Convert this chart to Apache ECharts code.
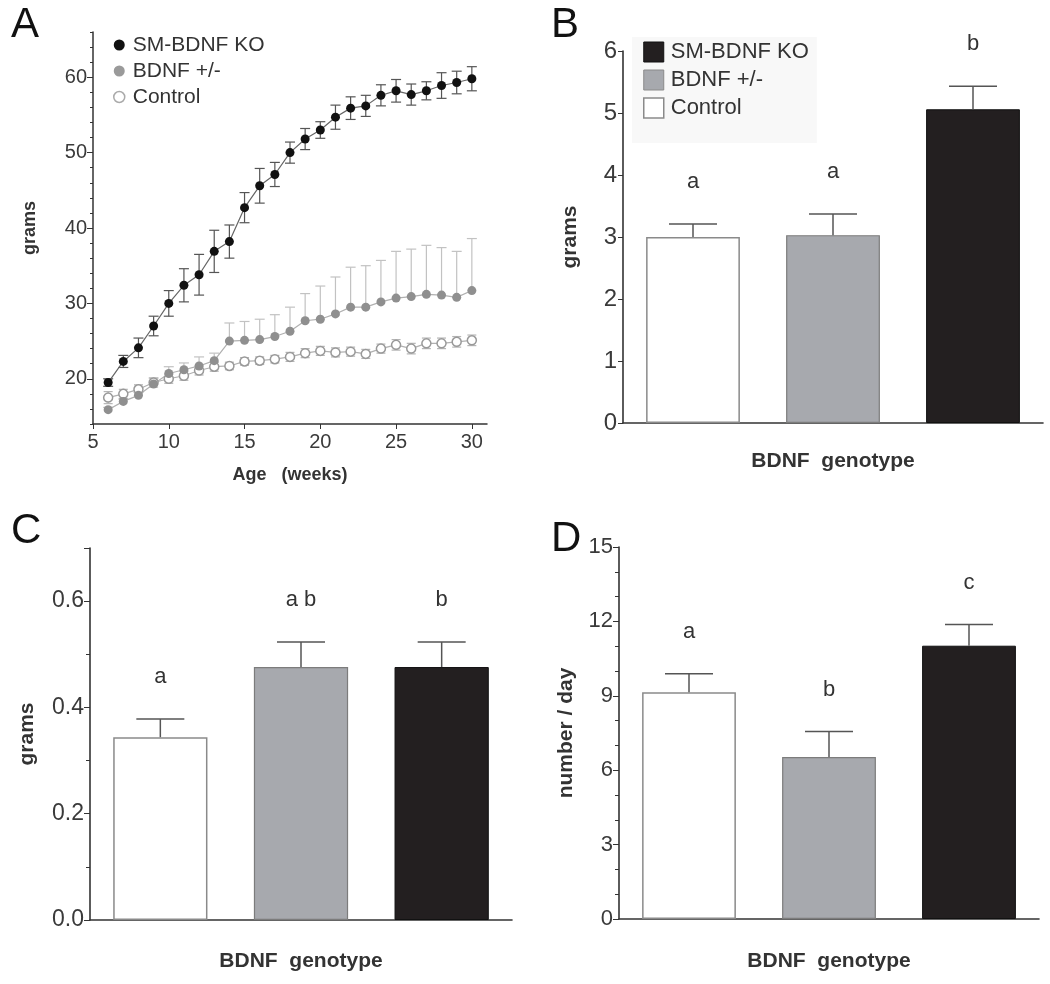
<!DOCTYPE html>
<html><head><meta charset="utf-8">
<script src="https://cdn.jsdelivr.net/npm/echarts@6/dist/echarts.min.js"></script>
<style>html,body{margin:0;padding:0;background:#fff}#c{width:1050px;height:984px}</style>
</head><body><div id="c"></div>
<script>
// ---------- Panel A data ----------
const weeks = [6,7,8,9,10,11,12,13,14,15,16,17,18,19,20,21,22,23,24,25,26,27,28,29,30];
const koMean = [19.5,22.3,24.1,27.0,30.0,32.4,33.8,36.9,38.2,42.7,45.6,47.1,50.0,51.8,53.0,54.7,55.9,56.2,57.6,58.2,57.7,58.2,58.9,59.3,59.8];
const koErr  = [0.5,0.8,1.3,1.3,1.7,2.2,2.7,2.8,2.2,2.0,2.3,1.6,1.4,1.4,1.1,1.6,1.5,1.4,1.4,1.5,1.4,1.2,1.7,1.5,1.6];
const hetMean = [15.9,17.0,17.8,19.3,20.7,21.2,21.7,22.4,25.0,25.1,25.2,25.6,26.3,27.7,27.9,28.6,29.5,29.5,30.2,30.7,30.9,31.2,31.1,30.8,31.7];
const hetErr  = [0.3,0.3,0.4,0.8,0.9,0.9,1.2,1.0,2.4,2.5,2.7,2.9,3.2,3.6,4.4,4.9,5.3,5.5,5.5,6.2,6.3,6.5,6.3,6.1,6.9];
const ctlMean = [17.5,18.0,18.6,19.5,20.0,20.4,21.1,21.6,21.7,22.3,22.4,22.6,22.9,23.4,23.7,23.5,23.6,23.3,24.0,24.5,24.0,24.7,24.7,24.9,25.1];
const ctlErr  = [0.8,0.6,0.6,0.6,0.6,0.6,0.6,0.6,0.5,0.5,0.5,0.5,0.6,0.6,0.6,0.6,0.6,0.6,0.6,0.7,0.7,0.7,0.7,0.7,0.7];
const aYLabels = [20,30,40,50,60];
const aYMinor = [14,16,18,22,24,26,28,32,34,36,38,42,44,46,48,52,54,56,58,62,64,66];

// ---------- Bar panels (order: Control, BDNF +/-, SM-BDNF KO) ----------
const groups = ['Control','BDNF +/-','SM-BDNF KO'];
const bMean = [3.00,3.03,5.06], bErr = [0.21,0.34,0.37], bLetters = ['a','a','b'];
const cMean = [0.344,0.476,0.476], cErr = [0.034,0.047,0.047], cLetters = ['a','a b','b'];
const dMean = [9.14,6.53,11.02], dErr = [0.75,1.03,0.85], dLetters = ['a','b','c'];
const cYLabels = [0, 0.2, 0.4, 0.6];

const FONT = '"Liberation Sans", Arial, sans-serif';
const LBL = '#3a3a3a';
const AX = '#333';
const barStyles = [
  {color:'#ffffff', borderColor:'#8a8a8a', borderWidth:1.5},
  {color:'#a7a9ae', borderColor:'#7c7c7c', borderWidth:1.2},
  {color:'#231f20', borderColor:'#111111', borderWidth:1}
];

function pairs(xs, ys){ return xs.map((x,i)=>[x, ys[i]]); }
function triples(xs, ys, es){ return xs.map((x,i)=>[x, ys[i], es[i]]); }

function errRenderA(color, capW, upOnly){
  return function(params, api){
    const x = api.value(0), m = api.value(1), e = api.value(2);
    const hi = api.coord([x, m+e]);
    const lo = upOnly ? api.coord([x, m]) : api.coord([x, m-e]);
    const st = {stroke: color, lineWidth: 1.2};
    const ch = [{type:'line', shape:{x1:hi[0], y1:hi[1], x2:lo[0], y2:lo[1]}, style:st},
                {type:'line', shape:{x1:hi[0]-capW/2, y1:hi[1], x2:hi[0]+capW/2, y2:hi[1]}, style:st}];
    if(!upOnly) ch.push({type:'line', shape:{x1:lo[0]-capW/2, y1:lo[1], x2:lo[0]+capW/2, y2:lo[1]}, style:st});
    return {type:'group', children: ch};
  };
}

function barErrSeries(axisIdx, mean, err, letters){
  return {
    type:'custom', xAxisIndex:axisIdx, yAxisIndex:axisIdx, clip:false, z:5,
    data: mean.map((m,i)=>[i, m, err[i]]),
    renderItem: function(params, api){
      const i = api.value(0), m = api.value(1), e = api.value(2);
      const base = api.coord([i, m]);
      const top = api.coord([i, m+e]);
      const st = {stroke:'#555', lineWidth:1.5};
      return {type:'group', children:[
        {type:'line', shape:{x1:base[0], y1:base[1], x2:top[0], y2:top[1]}, style:st},
        {type:'line', shape:{x1:top[0]-24, y1:top[1], x2:top[0]+24, y2:top[1]}, style:st},
        {type:'text', x: top[0], y: top[1]-42, style:{text: letters[params.dataIndex], fill:'#333',
          font: '22px ' + FONT, align:'center', verticalAlign:'middle'}}
      ]};
    }
  };
}

function barSeries(axisIdx, mean){
  return {type:'bar', xAxisIndex:axisIdx, yAxisIndex:axisIdx, barWidth:'67%',
    data: mean.map((m,i)=>({value:m, itemStyle: barStyles[i]})), z:2};
}

function catAxis(gi, name, gap){
  return {type:'category', gridIndex:gi, data:groups, boundaryGap:true,
    axisLine:{lineStyle:{color:AX, width:1.6}},
    axisTick:{alignWithLabel:true, length:6, lineStyle:{color:AX, width:1.2}},
    axisLabel:{show:false},
    name:name, nameLocation:'middle', nameGap:gap,
    nameTextStyle:{fontSize:21, fontWeight:'bold', color:'#333', fontFamily:FONT}};
}

const chart = echarts.init(document.getElementById('c'), null, {renderer:'canvas'});
chart.setOption({
  backgroundColor:'#ffffff',
  animation:false,
  textStyle:{fontFamily:FONT},
  grid:[
    {left:93, top:32, width:394, height:392},
    {left:623, top:51, width:420, height:372},
    {left:90, top:548, width:422, height:372},
    {left:619, top:547, width:420, height:372}
  ],
  legend:[
    {left:108, top:29, orient:'vertical', icon:'circle', itemWidth:11, itemHeight:11, itemGap:4,
     selectedMode:false,
     textStyle:{fontSize:21, color:'#333', fontFamily:FONT, lineHeight:22, padding:[0,0,0,3]},
     data:[
       {name:'SM-BDNF KO', itemStyle:{color:'#111'}},
       {name:'BDNF +/-', itemStyle:{color:'#9a9a9a'}},
       {name:'Control', itemStyle:{color:'#fff', borderColor:'#aaa', borderWidth:1.5}}
     ]},
    {left:632, top:37, orient:'vertical', icon:'rect', itemWidth:20, itemHeight:20, itemGap:6,
     selectedMode:false, backgroundColor:'#f8f8f8', padding:[4,8,24,11],
     textStyle:{fontSize:22, color:'#333', fontFamily:FONT, lineHeight:22, padding:[0,0,0,2]},
     data:[
       {name:'SM-BDNF KO', itemStyle:{color:'#231f20', borderColor:'#111', borderWidth:1}},
       {name:'BDNF +/-', itemStyle:{color:'#a7a9ae', borderColor:'#8a8a8a', borderWidth:1}},
       {name:'Control', itemStyle:{color:'#fff', borderColor:'#8a8a8a', borderWidth:1.5}}
     ]}
  ],
  xAxis:[
    {type:'value', gridIndex:0, min:5, max:31, interval:5,
     axisLine:{lineStyle:{color:AX, width:1.5}},
     axisTick:{length:5, lineStyle:{color:AX}},
     splitLine:{show:false},
     axisLabel:{fontSize:20, color:LBL, margin:8},
     name:'Age   (weeks)', nameLocation:'middle', nameGap:42,
     nameTextStyle:{fontSize:18, fontWeight:'bold', color:'#333', fontFamily:FONT}},
    catAxis(1, 'BDNF  genotype', 28),
    catAxis(2, 'BDNF  genotype', 31),
    catAxis(3, 'BDNF  genotype', 32)
  ],
  yAxis:[
    {type:'value', gridIndex:0, min:14, max:66,
     axisLine:{show:true, lineStyle:{color:AX, width:1.5}},
     axisTick:{show:true, length:6, customValues:aYLabels, lineStyle:{color:AX}},
     axisLabel:{fontSize:20, color:LBL, margin:6, customValues:aYLabels},
     splitLine:{show:false},
     name:'grams', nameLocation:'middle', nameGap:54,
     nameTextStyle:{fontSize:18, fontWeight:'bold', color:'#333', fontFamily:FONT}},
    {type:'value', gridIndex:1, min:0, max:6, interval:1,
     axisLine:{show:true, lineStyle:{color:AX, width:1.6}},
     axisTick:{show:true, length:5, lineStyle:{color:AX}},
     axisLabel:{fontSize:24, color:LBL, margin:6},
     splitLine:{show:false},
     name:'grams', nameLocation:'middle', nameGap:42,
     nameTextStyle:{fontSize:21, fontWeight:'bold', color:'#333', fontFamily:FONT}},
    {type:'value', gridIndex:2, min:0, max:0.7, interval:0.2,
     axisLine:{show:true, lineStyle:{color:AX, width:1.6}},
     axisTick:{show:true, length:6, lineStyle:{color:AX}},
     minorTick:{show:true, splitNumber:2, length:4, lineStyle:{color:AX}},
     axisLabel:{fontSize:23, color:LBL, margin:6, customValues:cYLabels, formatter:v=>Number(v).toFixed(1)},
     splitLine:{show:false}, minorSplitLine:{show:false},
     name:'grams', nameLocation:'middle', nameGap:52,
     nameTextStyle:{fontSize:21, fontWeight:'bold', color:'#333', fontFamily:FONT}},
    {type:'value', gridIndex:3, min:0, max:15, interval:3,
     axisLine:{show:true, lineStyle:{color:AX, width:1.6}},
     axisTick:{show:true, length:6, lineStyle:{color:AX}},
     minorTick:{show:true, splitNumber:3, length:4, lineStyle:{color:AX}},
     axisLabel:{fontSize:22, color:LBL, margin:6},
     splitLine:{show:false}, minorSplitLine:{show:false},
     name:'number / day', nameLocation:'middle', nameGap:42,
     nameTextStyle:{fontSize:21, fontWeight:'bold', color:'#333', fontFamily:FONT}},
    {type:'value', gridIndex:0, min:14, max:66, position:'left',
     axisLine:{show:false},
     axisTick:{show:true, length:3, customValues:aYMinor, lineStyle:{color:AX}},
     axisLabel:{show:false}, splitLine:{show:false}}
  ],
  graphic:[
    {type:'text', left:11, top:4, style:{text:'A', font:'42px '+FONT, fill:'#111'}},
    {type:'text', left:551, top:4, style:{text:'B', font:'42px '+FONT, fill:'#111'}},
    {type:'text', left:11, top:510, style:{text:'C', font:'42px '+FONT, fill:'#111'}},
    {type:'text', left:551, top:518, style:{text:'D', font:'42px '+FONT, fill:'#111'}}
  ],
  series:[
    {type:'custom', name:'errHet', xAxisIndex:0, yAxisIndex:0, clip:false, z:1,
     data:triples(weeks, hetMean, hetErr), renderItem:errRenderA('#c2c2c2', 10, true)},
    {type:'custom', name:'errCtl', xAxisIndex:0, yAxisIndex:0, clip:false, z:1,
     data:triples(weeks, ctlMean, ctlErr), renderItem:errRenderA('#b5b5b5', 9, false)},
    {type:'custom', name:'errKo', xAxisIndex:0, yAxisIndex:0, clip:false, z:1,
     data:triples(weeks, koMean, koErr), renderItem:errRenderA('#555', 10, false)},
    {type:'line', name:'Control', xAxisIndex:0, yAxisIndex:0, z:3,
     data:pairs(weeks, ctlMean), symbol:'circle', symbolSize:9,
     lineStyle:{color:'#b0b0b0', width:1.2},
     itemStyle:{color:'#ffffff', borderColor:'#999', borderWidth:1.5}},
    {type:'line', name:'BDNF +/-', xAxisIndex:0, yAxisIndex:0, z:3,
     data:pairs(weeks, hetMean), symbol:'circle', symbolSize:9,
     lineStyle:{color:'#b0b0b0', width:1.2},
     itemStyle:{color:'#8f8f8f', borderColor:'#8f8f8f', borderWidth:0}},
    {type:'line', name:'SM-BDNF KO', xAxisIndex:0, yAxisIndex:0, z:4,
     data:pairs(weeks, koMean), symbol:'circle', symbolSize:9,
     lineStyle:{color:'#666', width:1.2},
     itemStyle:{color:'#111', borderColor:'#111', borderWidth:0}},
    barSeries(1, bMean), barErrSeries(1, bMean, bErr, bLetters),
    barSeries(2, cMean), barErrSeries(2, cMean, cErr, cLetters),
    barSeries(3, dMean), barErrSeries(3, dMean, dErr, dLetters)
  ]
});
</script></body></html>
